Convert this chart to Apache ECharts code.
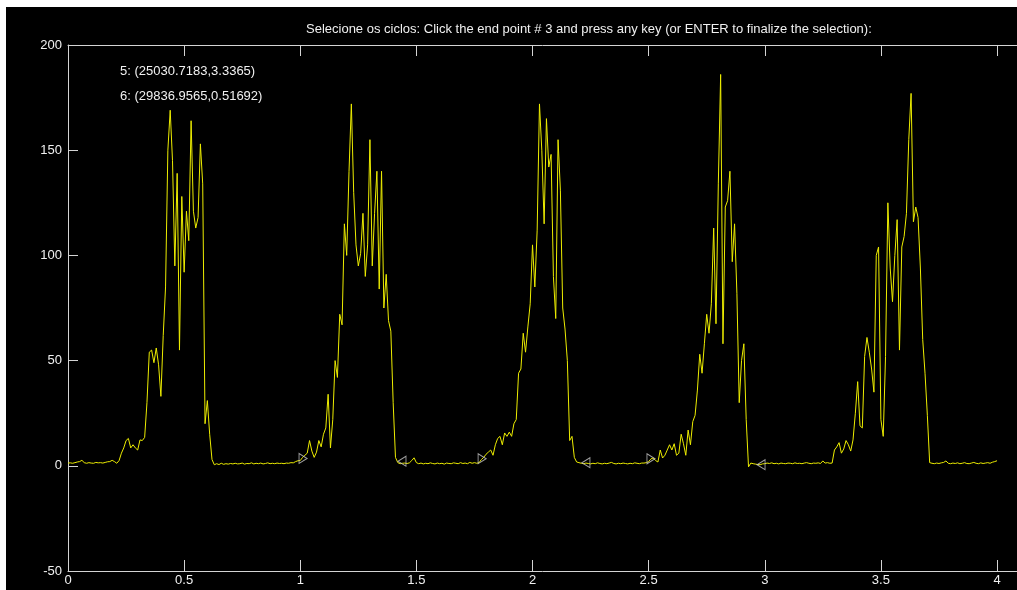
<!DOCTYPE html>
<html>
<head>
<meta charset="utf-8">
<title>Selecione os ciclos</title>
<script src="https://cdn.jsdelivr.net/npm/echarts@6/dist/echarts.min.js"></script>
<style>
  html, body { margin: 0; padding: 0; background: #000; }
  #chart { width: 1017px; height: 590px; }
</style>
</head>
<body>
<div id="chart"></div>
<script>
// sinal amostrado a cada 0.01 (x de 0 a 4)
const sampleStep = 0.01;

const signal0 = [
  1.3, 1.4, 1.2, 1.5, 1.8, 2.0, 2.6, 1.5, 1.2, 1.5,
  1.3, 1.2, 1.6, 1.4, 1.5, 1.3, 1.6, 1.9, 2.0, 2.6,
  2.0, 1.2, 2.5, 6.0, 8.5, 12, 13, 8.5, 10, 8.5,
  7.5, 12.3, 12, 13.5, 30, 54, 55, 49, 56, 48,
  33, 62, 85, 150, 169, 145, 95, 139, 55, 128,
  92, 121, 107, 164, 121, 113, 118, 153, 134, 20,
  31, 15, 3, 0.5, 1.0, 0.6, 1.2, 0.7, 1.0, 0.8,
  1.1, 0.9, 1.2, 0.9, 1.0, 1.3, 0.8, 1.1, 1.0, 1.4,
  0.9, 1.2, 1.0, 1.3, 0.9, 1.1, 1.4, 1.0, 1.2, 1.0,
  1.3, 1.1, 1.2, 1.0, 1.3, 1.2, 1.5, 1.4, 2.0, 2.4
];

const signal1 = [
  2.5, 4, 5, 6, 12, 7, 4, 6.5, 12, 9,
  15, 18, 34, 8.5, 22, 50, 42, 72, 67, 115,
  100, 140, 172, 130, 105, 95, 101, 120, 90, 105,
  155, 95, 120, 140, 84, 140, 75, 91, 69, 64,
  30, 4, 1.5, 1.0, 1.2, 1.3, 1.1, 1.4, 2.5, 3.8,
  1.5, 1.0, 1.3, 0.9, 1.2, 1.0, 1.4, 1.1, 0.9, 1.3,
  1.0, 1.2, 0.8, 1.3, 1.1, 1.0, 1.4, 1.2, 1.0, 1.5,
  1.1, 1.3, 1.0, 1.6, 1.2, 1.5, 1.2, 1.5, 3.0, 4.0,
  5.5, 6.5, 7.5, 5, 10, 13, 14, 10, 15.6, 14,
  16, 14, 20, 22, 44, 46, 63, 54, 66, 77
];

const signal2 = [
  105, 85, 112, 172, 150, 115, 165, 142, 148, 90,
  70, 155, 131, 75, 65, 50, 12, 14, 4, 1.8,
  1.5, 1.2, 1.0, 1.3, 1.1, 0.9, 1.2, 1.0, 1.4, 1.1,
  0.9, 1.2, 1.0, 1.3, 1.6, 1.1, 0.9, 1.2, 1.0, 1.3,
  1.1, 0.9, 1.2, 1.0, 1.4, 1.2, 1.0, 1.3, 1.3, 1.5,
  2.0, 3.3, 3.7, 2.5, 1.8, 7.5, 3.7, 5, 7.5, 10,
  7.5, 10.5, 5, 6, 15, 10.5, 5, 17, 10, 21,
  24, 36, 53, 44, 58, 72, 63, 77, 113, 67.5,
  134, 186, 58, 123, 126, 140, 97, 115, 82, 30,
  50, 58, 22, -0.5, 1.3, 1.0, 0.8, 0.6, 0.5, 0.9
];

const signal3 = [
  1.0, 1.3, 1.1, 1.4, 1.0, 1.2, 0.9, 1.3, 1.1, 1.0,
  1.3, 1.2, 1.0, 1.4, 1.1, 1.2, 1.0, 1.3, 1.5, 1.2,
  1.0, 1.3, 1.2, 1.4, 1.1, 2.3, 1.3, 1.5, 1.2, 1.3,
  7.5, 9, 11, 6, 8, 12, 10, 7, 12.3, 25,
  40, 19, 18, 52, 61, 54, 46, 35, 100, 104,
  22, 14, 52, 125, 94, 78, 100, 117, 55, 104,
  109, 120, 155, 177, 116, 123, 118, 94, 60, 44,
  24, 1.5, 1.2, 1.0, 1.3, 1.1, 1.4, 1.6, 2.3, 1.2,
  1.0, 1.3, 1.1, 1.4, 1.0, 1.2, 1.5, 1.1, 1.0, 1.3,
  1.6, 1.2, 1.0, 1.4, 1.1, 1.3, 1.5, 1.2, 1.7, 2.0,
  2.4
];

// pontos selecionados (triangulos)
const markX = [1.012, 1.438, 1.783, 2.23, 2.51, 2.984];
const markY = [3.5, 2.2, 3.4, 1.5, 3.3365, 0.51692];
const markDir = ["right", "left", "right", "left", "right", "left"];

const xTicks = [0, 0.5, 1, 1.5, 2, 2.5, 3, 3.5, 4];
const yTicks = [-50, 0, 50, 100, 150, 200];

const titleText = "Selecione os ciclos: Click the end point # 3 and press any key (or ENTER to finalize the selection):";
const tipLines = ["5: (25030.7183,3.3365)", "6: (29836.9565,0.51692)"];

const signal = signal0.concat(signal1, signal2, signal3);
const lineData = signal.map((v, i) => [+(i * sampleStep).toFixed(2), v]);

const rightTri = "path://M0,0L8,5L0,10Z";
const leftTri = "path://M8,0L0,5L8,10Z";
const markData = markX.map((x, i) => ({
  value: [x, markY[i]],
  symbol: markDir[i] === "right" ? rightTri : leftTri,
}));

let chart = echarts.init(document.getElementById("chart"));

const axisColor = "#d4d4d4";
const textFont = "13px 'Liberation Sans'";
const labelFont = { color: "#f0f0f0", fontSize: 13, fontFamily: "Liberation Sans" };

const option = {
  backgroundColor: "#000",
  animation: false,
  grid: {
    left: 68,
    top: 45,
    right: 0,
    bottom: 19,
  },
  xAxis: [
    {
      type: "value",
      min: 0,
      max: 4.086,
      interval: 0.5,
      // eixo sempre embaixo, nao no zero
      axisLine: { onZero: false, lineStyle: { color: axisColor, width: 1 } },
      axisTick: { inside: true, length: 11, lineStyle: { color: axisColor } },
      axisLabel: Object.assign({
        margin: 3,
        showMaxLabel: false,
        formatter: (v) => (xTicks.indexOf(v) >= 0 ? String(v) : ""),
      }, labelFont),
      splitLine: { show: false },
    },
    {
      type: "value",
      position: "top",
      min: 0,
      max: 4.086,
      interval: 0.5,
      axisLine: { show: true, onZero: false, lineStyle: { color: axisColor, width: 1 } },
      axisTick: { show: true, inside: true, length: 11, lineStyle: { color: axisColor } },
      axisLabel: { show: false },
      splitLine: { show: false },
    },
  ],
  yAxis: {
    type: "value",
    min: -50,
    max: 200,
    interval: 50,
    axisLine: { show: true, onZero: false, lineStyle: { color: axisColor, width: 1 } },
    axisTick: { show: true, inside: true, length: 10, lineStyle: { color: axisColor } },
    axisLabel: Object.assign({
      margin: 6,
      formatter: (v) => (yTicks.indexOf(v) >= 0 ? String(v) : ""),
    }, labelFont),
    splitLine: { show: false },
  },
  series: [
    {
      type: "line",
      data: lineData,
      showSymbol: false,
      clip: true,
      lineStyle: { color: "#eded00", width: 1 },
      z: 2,
    },
    {
      type: "scatter",
      data: markData,
      symbolSize: [8, 10],
      itemStyle: {
        color: "rgba(0,0,0,0)",
        borderColor: "#c8c8c8",
        borderWidth: 1,
      },
      z: 3,
    },
  ],
  graphic: [
    { type: "rect", shape: { x: 0, y: 0, width: 1017, height: 7 }, style: { fill: "#fff" } },
    { type: "rect", shape: { x: 0, y: 0, width: 6, height: 590 }, style: { fill: "#fff" } },
    {
      type: "text", left: 306, top: 23,
      style: { text: titleText, fill: "#f0f0f0", font: textFont },
    },
    {
      type: "text", left: 120, top: 65,
      style: { text: tipLines[0], fill: "#f0f0f0", font: textFont },
    },
    {
      type: "text", left: 120, top: 90,
      style: { text: tipLines[1], fill: "#f0f0f0", font: textFont },
    },
  ],
};

chart.setOption(option);
</script>
</body>
</html>
